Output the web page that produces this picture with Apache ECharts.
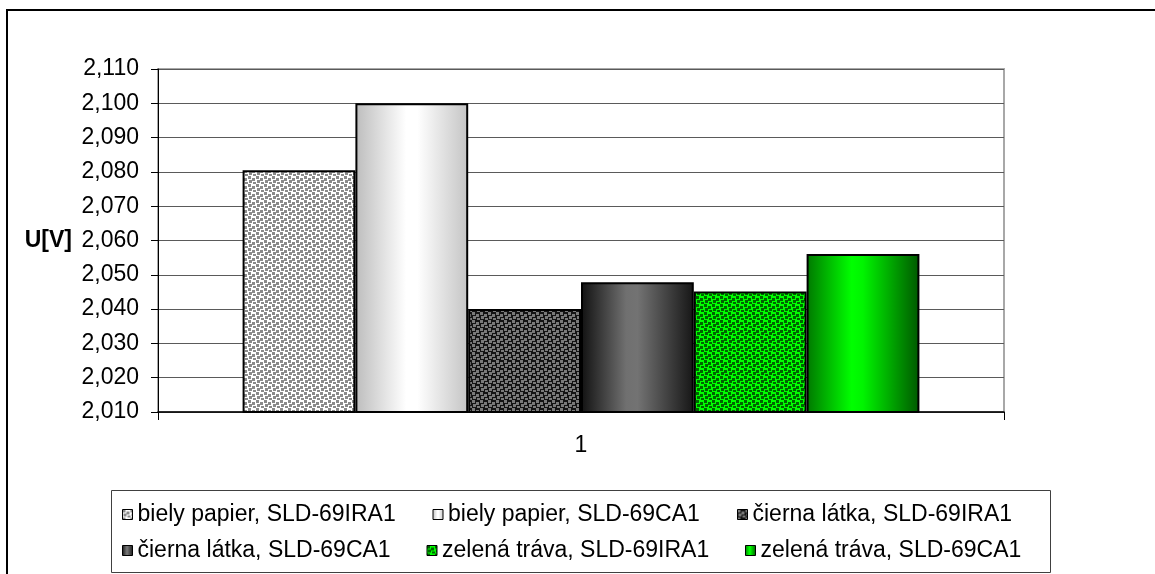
<!DOCTYPE html>
<html>
<head>
<meta charset="utf-8">
<script src="https://cdn.jsdelivr.net/npm/echarts@6/dist/echarts.min.js"></script>
<style>
  html, body { margin: 0; padding: 0; background: #fff; }
  #chart { width: 1155px; height: 574px; }
</style>
</head>
<body>
<div id="chart"></div>
<script>
// Measured output voltage of the two sensors over three surfaces
const categories = ['1'];
const seriesNames = [
  'biely papier, SLD-69IRA1',
  'biely papier, SLD-69CA1',
  'čierna látka, SLD-69IRA1',
  'čierna látka, SLD-69CA1',
  'zelená tráva, SLD-69IRA1',
  'zelená tráva, SLD-69CA1'
];
const values = [2.0805, 2.100, 2.040, 2.0478, 2.0451, 2.0561];
const yMin = 2.01;
const yMax = 2.11;
const yStep = 0.01;
const yAxisTitle = 'U[V]';

const FONT = "'Liberation Sans', Arial, sans-serif";
const FS = 23;

// Small tiled canvas used as a dotted fill
function dotPattern(bg, dot) {
  const c = document.createElement('canvas');
  c.width = 8; c.height = 8;
  const g = c.getContext('2d');
  g.fillStyle = bg; g.fillRect(0, 0, 8, 8);
  g.fillStyle = dot;
  [[0, 0], [4, 2], [1, 4], [5, 6]].forEach(function (p) { g.fillRect(p[0], p[1], 3, 3); });
  return { image: c, repeat: 'repeat' };
}
function hGradient(stops) {
  return {
    type: 'linear', x: 0, y: 0, x2: 1, y2: 0,
    colorStops: stops.map(function (s) { return { offset: s[0], color: s[1] }; })
  };
}

const fills = [
  dotPattern('#ffffff', '#8a8a8a'),
  hGradient([[0, '#bdbdbd'], [0.45, '#ffffff'], [0.55, '#ffffff'], [1, '#c4c4c4']]),
  dotPattern('#141414', '#7a7a7a'),
  hGradient([[0, '#111111'], [0.4, '#707070'], [0.5, '#737373'], [1, '#161616']]),
  dotPattern('#00ff00', '#006400'),
  hGradient([[0, '#007800'], [0.4, '#00ff00'], [0.5, '#00f400'], [1, '#005800']])
];

// Label box widths so the legend entries spread across the legend frame
const legendTextWidths = [282, 276, 282, 276, 290, 283];
const legendRich = {};
legendTextWidths.forEach(function (w, i) {
  legendRich['w' + i] = {
    width: w, fontSize: FS, fontFamily: FONT, color: '#000',
    backgroundColor: 'rgba(255,255,255,0)'
  };
});

const series = seriesNames.map(function (name, i) {
  return {
    name: name,
    type: 'bar',
    barGap: '0%',
    barCategoryGap: '20%',
    itemStyle: { color: fills[i], borderColor: '#000', borderWidth: 2 },
    data: [values[i]]
  };
});

const chart = echarts.init(document.getElementById('chart'), null, { renderer: 'canvas' });
chart.setOption({
  animation: false,
  backgroundColor: '#ffffff',
  textStyle: { fontFamily: FONT },
  grid: {
    left: 158, right: 151, top: 69, bottom: 162,
    containLabel: false, outerBoundsMode: 'none',
    show: true, borderColor: '#a8a8a8', borderWidth: 2, backgroundColor: 'transparent'
  },
  xAxis: {
    type: 'category',
    data: categories,
    axisLine: { lineStyle: { color: '#000', width: 1.5 } },
    axisTick: { show: true, length: 8, lineStyle: { color: '#000' } },
    axisLabel: { margin: 22, color: '#000', fontSize: FS, fontFamily: FONT },
    splitLine: { show: false }
  },
  yAxis: {
    type: 'value',
    min: yMin, max: yMax, interval: yStep,
    name: yAxisTitle,
    nameLocation: 'middle',
    nameRotate: 0,
    nameGap: 86,
    nameMoveOverlap: false,
    nameTextStyle: { fontSize: FS, fontWeight: 'bold', color: '#000', fontFamily: FONT, align: 'right', verticalAlign: 'middle' },
    axisLine: { show: true, lineStyle: { color: '#000', width: 1 } },
    axisTick: { show: true, length: 7, lineStyle: { color: '#000' } },
    axisLabel: {
      margin: 19, color: '#000', fontSize: FS, fontFamily: FONT,
      formatter: function (v) { return v.toFixed(3).replace('.', ','); }
    },
    splitLine: { show: true, lineStyle: { color: '#5a5a5a', width: 1 } }
  },
  legend: {
    left: 122, top: 503, width: 930, padding: 0,
    orient: 'horizontal',
    itemGap: 13, itemWidth: 10, itemHeight: 10,
    icon: 'rect',
    itemStyle: { borderColor: '#000', borderWidth: 1 },
    textStyle: { fontSize: FS, color: '#000', fontFamily: FONT, rich: legendRich },
    formatter: function (name) {
      return '{w' + seriesNames.indexOf(name) + '|' + name + '}';
    },
    data: seriesNames
  },
  graphic: [
    { type: 'rect', silent: true, z: 100,
      shape: { x: 7, y: 10, width: 1200, height: 620 },
      style: { fill: null, stroke: '#000', lineWidth: 2 } },
    { type: 'rect', silent: true, z: 100,
      shape: { x: 111.5, y: 490.5, width: 939, height: 82 },
      style: { fill: null, stroke: '#404040', lineWidth: 1 } }
  ],
  series: series
});
</script>
</body>
</html>
